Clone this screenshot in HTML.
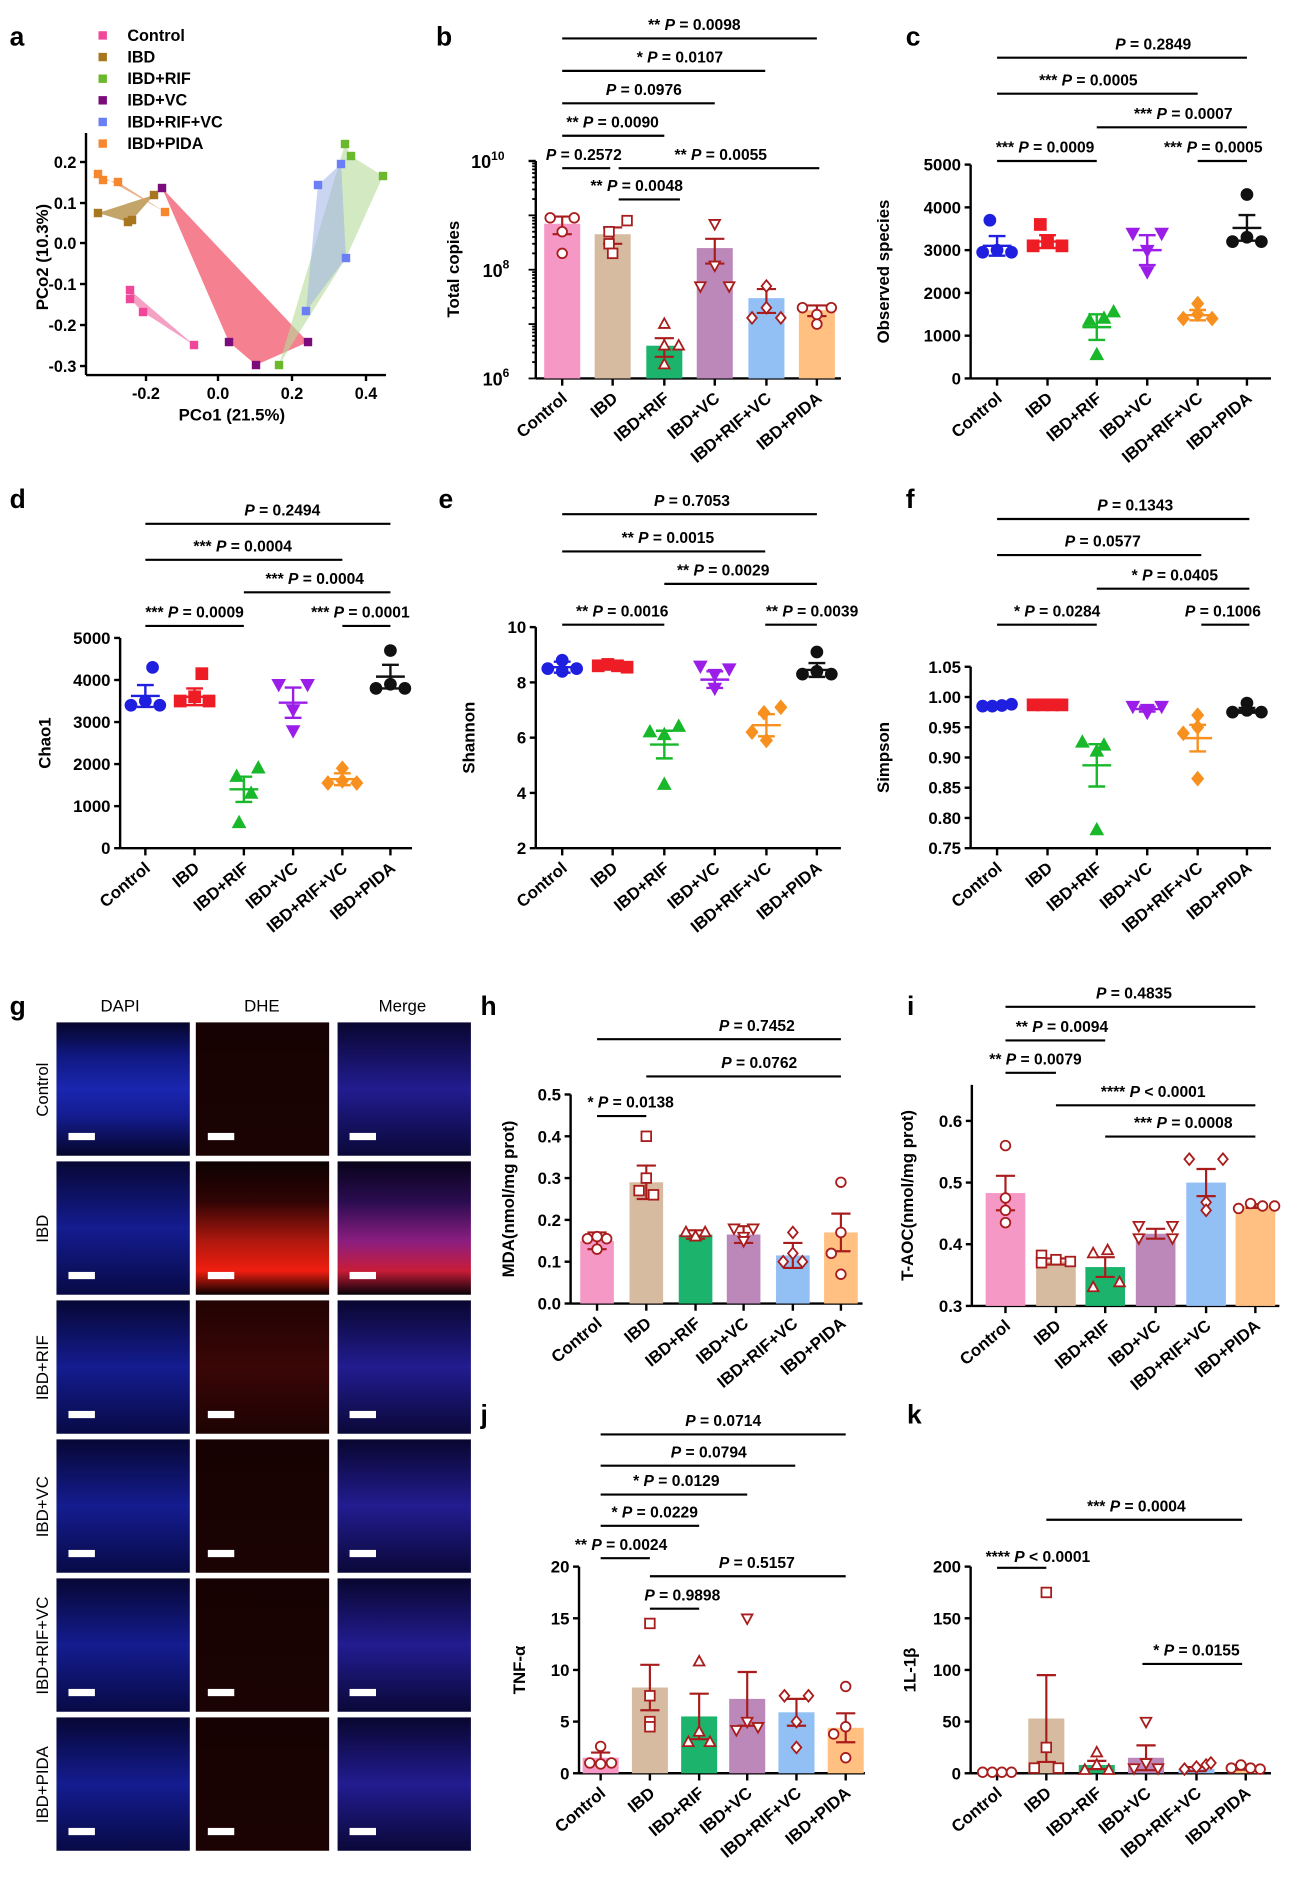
<!DOCTYPE html>
<html><head><meta charset="utf-8"><style>
html,body{margin:0;padding:0;background:#fff;}
svg{display:block;}
text{font-family:"Liberation Sans",Arial,sans-serif;font-weight:bold;fill:#000;}
text.n{font-weight:normal;}
</style></head><body>
<svg id="s" xmlns="http://www.w3.org/2000/svg" width="1301" height="1891" viewBox="0 0 1083 1574" preserveAspectRatio="none">
<defs>
<linearGradient id="gblue" x1="0" y1="0" x2="0" y2="1"><stop offset="0" stop-color="#05052a"/><stop offset="0.25" stop-color="#101880"/><stop offset="0.5" stop-color="#1a26b0"/><stop offset="0.7" stop-color="#141c90"/><stop offset="1" stop-color="#05052a"/></linearGradient>
<linearGradient id="gblue2" x1="0" y1="0" x2="0" y2="1"><stop offset="0" stop-color="#070735"/><stop offset="0.5" stop-color="#141c90"/><stop offset="1" stop-color="#080a45"/></linearGradient>
<linearGradient id="gred0" x1="0" y1="0" x2="0" y2="1"><stop offset="0" stop-color="#160202"/><stop offset="1" stop-color="#1c0303"/></linearGradient>
<linearGradient id="gred1" x1="0" y1="0" x2="0" y2="1"><stop offset="0" stop-color="#0c0101"/><stop offset="0.3" stop-color="#300404"/><stop offset="0.6" stop-color="#b0180e"/><stop offset="0.82" stop-color="#f01e10"/><stop offset="1" stop-color="#080000"/></linearGradient>
<linearGradient id="gred2" x1="0" y1="0" x2="0" y2="1"><stop offset="0" stop-color="#220303"/><stop offset="0.5" stop-color="#3a0606"/><stop offset="1" stop-color="#1e0303"/></linearGradient>
<linearGradient id="gmer1" x1="0" y1="0" x2="0" y2="1"><stop offset="0" stop-color="#08031a"/><stop offset="0.3" stop-color="#2a0c50"/><stop offset="0.6" stop-color="#8c1e80"/><stop offset="0.82" stop-color="#c81c38"/><stop offset="1" stop-color="#060108"/></linearGradient>
<linearGradient id="gmer" x1="0" y1="0" x2="0" y2="1"><stop offset="0" stop-color="#090630"/><stop offset="0.5" stop-color="#221c90"/><stop offset="1" stop-color="#0a0838"/></linearGradient>
</defs>
<g id="root"></g>
</svg>
<script>
var R=document.getElementById('root');var NS='http://www.w3.org/2000/svg';
function el(t,a,txt){var e=document.createElementNS(NS,t);for(var k in a)e.setAttribute(k,a[k]);if(txt!==undefined)e.textContent=txt;R.appendChild(e);return e;}
function line(x1,y1,x2,y2,w,c){el('line',{x1:x1,y1:y1,x2:x2,y2:y2,stroke:c||'#000','stroke-width':w||1.6});}
function txt(x,y,s,o){o=o||{};var a={x:x,y:y,'font-size':o.fs||13.5};if(o.anchor)a['text-anchor']=o.anchor;if(o.tr)a.transform=o.tr;if(o.fill)a.fill=o.fill;if(o.cls)a['class']=o.cls;return el('text',a,s);}
function ptxt(x,y,stars,val,anchor){var t=txt(x,y,'',{anchor:anchor||'middle',fs:13});
 var p=document.createElementNS(NS,'tspan');if(stars){p.textContent=stars+' ';t.appendChild(p);}
 var q=document.createElementNS(NS,'tspan');q.setAttribute('font-style','italic');q.textContent='P';t.appendChild(q);
 var r=document.createElementNS(NS,'tspan');r.textContent=' '+val;t.appendChild(r);}
function sig(x1,x2,y,stars,val,tx){line(x1,y,x2,y,1.8);ptxt(tx!==undefined?tx:(x1+x2)/2,y-7,stars,val);}
function marker(shape,x,y,col,fill,sz){sz=sz||4.5;var f=fill?col:'#fff',sw=fill?1:1.5;
 if(shape=='o')el('circle',{cx:x,cy:y,r:sz,fill:f,stroke:col,'stroke-width':sw});
 else if(shape=='s')el('rect',{x:x-sz,y:y-sz,width:2*sz,height:2*sz,fill:f,stroke:col,'stroke-width':sw});
 else if(shape=='t')el('polygon',{points:[x,y-sz*1.2,x-sz*1.1,y+sz*0.8,x+sz*1.1,y+sz*0.8].join(','),fill:f,stroke:col,'stroke-width':sw});
 else if(shape=='v')el('polygon',{points:[x,y+sz*1.2,x-sz*1.1,y-sz*0.8,x+sz*1.1,y-sz*0.8].join(','),fill:f,stroke:col,'stroke-width':sw});
 else if(shape=='d')el('polygon',{points:[x,y-sz*1.2,x+sz,y,x,y+sz*1.2,x-sz,y].join(','),fill:f,stroke:col,'stroke-width':sw});}
var G=['Control','IBD','IBD+RIF','IBD+VC','IBD+RIF+VC','IBD+PIDA'];
var SH=['o','s','t','v','d','o'];
var BC=['#f598c6','#d7bba1','#1cb46c','#bc87b9','#92bff4','#ffc082'];
var PC=['#1f1fe0','#ee1c24','#18b82a','#9b1ee8','#f7901e','#111'];
function axes(ax,top,bot,x0,cx,ticks,fmt,ylabel,labx){
 line(ax,top,ax,bot,2);line(ax,bot,x0,bot,2);
 ticks.forEach(function(t){line(ax-5,t[1],ax,t[1],2);txt(ax-8,t[1]+5,t[0],{anchor:'end',fs:14});});
 cx.forEach(function(c,i){line(c,bot,c,bot+6,2);txt(c+5,bot+18,G[i],{anchor:'end',tr:'rotate(-40 '+(c+5)+' '+(bot+18)+')',fs:14});});
 txt(labx,(top+bot)/2,ylabel,{anchor:'middle',tr:'rotate(-90 '+labx+' '+(top+bot)/2+')',fs:14});}
function scatter(cx,vals,ymap,means,sems){
 cx.forEach(function(c,i){var m=ymap(means[i]);line(c-12,m,c+12,m,2,PC[i]);line(c,ymap(means[i]+sems[i]),c,ymap(means[i]-sems[i]),2,PC[i]);
  line(c-7,ymap(means[i]+sems[i]),c+7,ymap(means[i]+sems[i]),2,PC[i]);line(c-7,ymap(means[i]-sems[i]),c+7,ymap(means[i]-sems[i]),2,PC[i]);
  vals[i].forEach(function(p){marker(SH[i],c+p[0],ymap(p[1]),PC[i],true,4.8);});});}
function bars(cx,bw,bot,ymap,means,sems,vals){
 cx.forEach(function(c,i){var t=ymap(means[i]);el('rect',{x:c-bw/2,y:t,width:bw,height:bot-t,fill:BC[i]});});
 cx.forEach(function(c,i){var col='#a81c1c';var a=ymap(means[i]+sems[i]),b=ymap(Math.max(means[i]-sems[i],0));
  line(c,a,c,b,1.8,col);line(c-8,a,c+8,a,1.8,col);line(c-8,b,c+8,b,1.8,col);
  vals[i].forEach(function(p){marker(SH[i],c+p[0],ymap(p[1]),col,false,4);});});}
function lbl(x,y,s){txt(x,y,s,{fs:22});}

// ===== a =====
lbl(8,38,'a');
var LG=[['Control','#f0479a'],['IBD','#a8761e'],['IBD+RIF','#6cb82c'],['IBD+VC','#7c0b7c'],['IBD+RIF+VC','#6a7ff5'],['IBD+PIDA','#f7872e']];
LG.forEach(function(l,i){var y=31+i*18;el('rect',{x:82,y:y-5,width:7,height:7,fill:l[1]});txt(106,y+3,l[0],{fs:13.5});});
var sa=1/1.2013;function P(x,y){return (x*sa).toFixed(1)+','+(y*sa).toFixed(1);}
function poly(pts,fill,op){el('polygon',{points:pts.map(function(p){return P(p[0],p[1]);}).join(' '),fill:fill,'fill-opacity':op});}
poly([[162,188],[308,342],[256,365],[229,342]],'#f36a7c',0.85);
poly([[279,365],[345,144],[351,156],[383,176],[346,258]],'#b5da9a',0.6);
poly([[318,185],[341,164],[346,258],[306,311]],'#9fb2e8',0.55);
poly([[130,290],[130,299],[143,312],[194,345]],'#f18ab5',0.8);
poly([[98,213],[128,222],[132,220],[154,195]],'#b89550',0.85);
poly([[98,174],[103,180],[118,182],[165,212]],'#e79a6a',0.8);
var ptsA=[['#f0479a',[[130,290],[130,299],[143,312],[194,345]]],['#a8761e',[[98,213],[128,222],[132,220],[154,195]]],['#f7872e',[[98,174],[103,180],[118,182],[165,212]]],['#7c0b7c',[[162,188],[229,342],[256,365],[308,342]]],['#6cb82c',[[279,365],[345,144],[351,156],[383,176]]],['#6a7ff5',[[318,185],[341,164],[346,258],[306,311]]]];
ptsA.forEach(function(g){g[1].forEach(function(p){el('rect',{x:p[0]*sa-3.5,y:p[1]*sa-3.5,width:7,height:7,fill:g[0]});});});
line(86*sa,133*sa,86*sa,375*sa,2);line(86*sa,375*sa,386*sa,375*sa,2);
[['0.2',162],['0.1',203],['0.0',243],['-0.1',284],['-0.2',325],['-0.3',366]].forEach(function(t){line(86*sa-5,t[1]*sa,86*sa,t[1]*sa,2);txt(86*sa-8,t[1]*sa+5,t[0],{anchor:'end',fs:13.5});});
[['-0.2',146],['0.0',218],['0.2',292],['0.4',366]].forEach(function(t){line(t[1]*sa,375*sa,t[1]*sa,375*sa+5,2);txt(t[1]*sa,375*sa+20,t[0],{anchor:'middle',fs:13.5});});
txt(193,350,'PCo1 (21.5%)',{anchor:'middle',fs:14});
txt(40,214,'PCo2 (10.3%)',{anchor:'middle',fs:14,tr:'rotate(-90 40 214)'});

// ===== b =====
lbl(363,38,'b');
var cb=[468,510,553,595,638,680];
(function(){var top=134,bot=315;var ym=function(v){return bot-(Math.log10(v)-6)*(bot-top)/4;};
 line(446,top,446,bot,2);line(446,bot,700,bot,2);
 for(var d=6;d<10;d++)for(var k=1;k<10;k++){var y=ym(k*Math.pow(10,d));line(k==1?440:443,y,446,y,1.5);}
 line(440,top,446,top,2);
 [[6,bot],[8,ym(1e8)],[10,top]].forEach(function(t){var e=txt(t[0]==10?420:424,t[1]+6,'10',{anchor:'end',fs:15});var s=document.createElementNS(NS,'tspan');s.setAttribute('dy','-7');s.setAttribute('font-size','10');s.textContent=t[0];e.appendChild(s);});
 cb.forEach(function(c,i){line(c,bot,c,bot+6,2);txt(c+5,bot+18,G[i],{anchor:'end',tr:'rotate(-40 '+(c+5)+' '+(bot+18)+')',fs:14});});
 txt(382,224,'Total copies',{anchor:'middle',fs:14,tr:'rotate(-90 382 224)'});
 var m=[7e8,4.5e8,4e6,2.5e8,3e7,1.8e7],s=[2.5e8,1.5e8,1.5e6,1.2e8,1.4e7,4e6];
 var v=[[[-10,9e8],[0,5e8],[10,9e8],[0,2e8]],[[-3,5e8],[-3,3e8],[12,8e8],[0,2e8]],[[0,1e7],[0,4e6],[12,4e6],[0,1.8e6]],[[0,7e8],[0,1.2e8],[-12,5e7],[12,5e7]],[[0,5e7],[0,2e7],[-12,1.3e7],[12,1.3e7]],[[-12,2e7],[12,2e7],[0,1.5e7],[0,1e7]]];
 bars(cb,30,bot,ym,m,s,v);
 sig(468,680,32,'**','= 0.0098',578);sig(468,637,59,'*','= 0.0107',566);sig(468,595,86,'','= 0.0976',536);
 sig(468,553,113,'**','= 0.0090',510);line(468,140,508,140,1.8);ptxt(486,133,'','= 0.2572');
 line(515,140,682,140,1.8);ptxt(600,133,'**','= 0.0055');sig(515,566,166,'**','= 0.0048',530);})();

// ===== c =====
lbl(754,38,'c');
var cr=[830,872,913,955,997,1038];
(function(){var top=137,bot=315;var ym=function(v){return bot-v*(bot-top)/5000;};
 axes(808,top,bot,1058,cr,[['0',bot],['1000',ym(1000)],['2000',ym(2000)],['3000',ym(3000)],['4000',ym(4000)],['5000',top]],null,'Observed species',740);
 scatter(cr,[[[-6,3700],[-12,2950],[12,2950],[0,3000]],[[-6,3600],[-12,3100],[12,3100],[0,3200]],[[14,1550],[-6,1350],[6,1400],[0,550]],[[-12,3400],[12,3400],[0,3000],[0,2500]],[[0,1750],[-12,1400],[12,1400],[0,1500]],[[0,4300],[-12,3200],[12,3200],[0,3300]]],ym,[3100,3200,1200,3000,1480,3520],[230,150,300,350,120,300]);
 sig(830,1038,48,'','= 0.2849',960);sig(830,997,78,'***','= 0.0005',906);sig(913,1038,106,'***','= 0.0007',985);
 sig(830,913,134,'***','= 0.0009',870);sig(997,1038,134,'***','= 0.0005',1010);})();

// ===== d =====
lbl(8,423,'d');
var cd=[121,162,203,244,285,325];
(function(){var top=531,bot=706;var ym=function(v){return bot-v*(bot-top)/5000;};
 axes(100,top,bot,343,cd,[['0',bot],['1000',ym(1000)],['2000',ym(2000)],['3000',ym(3000)],['4000',ym(4000)],['5000',top]],null,'Chao1',42);
 scatter(cd,[[[6,4300],[-12,3400],[12,3400],[0,3500]],[[6,4150],[-12,3500],[12,3500],[0,3600]],[[12,1900],[-6,1700],[6,1300],[-4,600]],[[-12,3900],[12,3900],[0,3300],[0,2800]],[[0,1900],[-12,1550],[12,1550],[0,1600]],[[0,4700],[-12,3800],[12,3800],[0,3900]]],ym,[3620,3600,1400,3460,1640,4080],[260,200,300,360,140,280]);
 sig(121,325,436,'','= 0.2494',235);sig(121,285,466,'***','= 0.0004',202);sig(203,325,493,'***','= 0.0004',262);
 sig(121,203,521,'***','= 0.0009',162);sig(285,325,521,'***','= 0.0001',300);})();

// ===== e =====
lbl(365,423,'e');
(function(){var top=522,bot=706;var ym=function(v){return bot-(v-2)*(bot-top)/8;};
 axes(446,top,bot,700,cb,[['2',bot],['4',ym(4)],['6',ym(6)],['8',ym(8)],['10',top]],null,'Shannon',395);
 scatter(cb,[[[-12,8.5],[12,8.5],[0,8.8],[0,8.4]],[[-12,8.6],[-4,8.65],[4,8.6],[12,8.55]],[[12,6.4],[-12,6.2],[0,6.1],[0,4.3]],[[-12,8.6],[12,8.5],[0,8.3],[0,7.8]],[[12,7.1],[-2,6.9],[-12,6.2],[0,5.9]],[[0,9.1],[-12,8.3],[12,8.3],[0,8.4]]],ym,[8.55,8.6,5.75,8.1,6.45,8.45],[0.2,0.1,0.5,0.3,0.4,0.25]);
 sig(468,680,428,'','= 0.7053',576);sig(468,637,459,'**','= 0.0015',556);sig(553,680,486,'**','= 0.0029',602);
 sig(468,553,520,'**','= 0.0016',518);sig(637,680,520,'**','= 0.0039',676);})();

// ===== f =====
lbl(754,423,'f');
(function(){var top=555,bot=706;var ym=function(v){return bot-(v-0.75)*(bot-top)/0.3;};
 axes(808,top,bot,1058,cr,[['0.75',bot],['0.80',ym(.8)],['0.85',ym(.85)],['0.90',ym(.9)],['0.95',ym(.95)],['1.00',ym(1)],['1.05',top]],null,'Simpson',740);
 scatter(cr,[[[-12,0.985],[-4,0.985],[4,0.986],[12,0.988]],[[-12,0.987],[-4,0.987],[4,0.987],[12,0.987]],[[-12,0.925],[6,0.92],[0,0.91],[0,0.78]],[[-12,0.985],[12,0.985],[0,0.975],[0,0.98]],[[0,0.97],[0,0.95],[-12,0.94],[0,0.865]],[[0,0.99],[-12,0.975],[12,0.975],[0,0.978]]],ym,[0.986,0.987,0.887,0.98,0.932,0.978],[0.002,0.001,0.035,0.004,0.022,0.004]);
 sig(830,1040,432,'','= 0.1343',945);sig(830,1000,462,'','= 0.0577',918);sig(913,1040,490,'*','= 0.0405',978);
 sig(830,913,520,'*','= 0.0284',880);sig(1000,1040,520,'','= 0.1006',1018);})();

// ===== g =====
lbl(8,845,'g');
txt(100,842,'DAPI',{anchor:'middle',fs:14,cls:'n'});txt(218,842,'DHE',{anchor:'middle',fs:14,cls:'n'});txt(335,842,'Merge',{anchor:'middle',fs:14,cls:'n'});
var colx=[47,163,281];var rows=['Control','IBD','IBD+RIF','IBD+VC','IBD+RIF+VC','IBD+PIDA'];
rows.forEach(function(r,i){var y=851+i*115.7;
 var fills=[i==0?'url(#gblue)':'url(#gblue2)',i==0?'url(#gred0)':(i==1?'url(#gred1)':(i==2?'url(#gred2)':'url(#gred0)')),i==1?'url(#gmer1)':'url(#gmer)'];
 colx.forEach(function(x,j){el('rect',{x:x,y:y,width:111,height:111,fill:fills[j]});el('rect',{x:x+10,y:y+92,width:22,height:6,fill:'#fff'});});
 txt(40,y+56,r,{anchor:'middle',fs:14,cls:'n',tr:'rotate(-90 40 '+(y+56)+')'});});

// ===== h =====
lbl(400,845,'h');
var ch=[497,538,579,619,660,700];
(function(){var top=911,bot=1085;var ym=function(v){return bot-v*(bot-top)/0.5;};
 axes(475,top,bot,718,ch,[['0.0',bot],['0.1',ym(.1)],['0.2',ym(.2)],['0.3',ym(.3)],['0.4',ym(.4)],['0.5',top]],null,'MDA(nmol/mg prot)',428);
 bars(ch,28,bot,ym,[0.15,0.29,0.165,0.165,0.115,0.17],[0.02,0.04,0.01,0.02,0.03,0.045],[[[-8,0.155],[8,0.155],[0,0.13],[0,0.16]],[[0,0.4],[0,0.3],[-6,0.27],[6,0.26]],[[-8,0.17],[8,0.17],[0,0.16],[0,0.16]],[[-8,0.18],[8,0.18],[0,0.16],[0,0.15]],[[0,0.17],[0,0.12],[-8,0.1],[8,0.1]],[[0,0.29],[0,0.17],[-8,0.12],[0,0.07]]]);
 sig(497,700,865,'','= 0.7452',630);sig(538,700,896,'','= 0.0762',632);sig(497,538,929,'*','= 0.0138',525);})();

// ===== i =====
lbl(755,845,'i');
var ci=[837,879,920,962,1004,1045];
(function(){var top=903,bot=1087;var ym=function(v){return bot-(v-0.3)*(1087-933)/0.3;};
 axes(809,top,bot,1065,ci,[['0.3',bot],['0.4',ym(.4)],['0.5',ym(.5)],['0.6',ym(.6)]],null,'T-AOC(nmol/mg prot)',760);
 bars(ci,33,bot,ym,[0.483,0.372,0.363,0.417,0.5,0.462],[0.028,0.005,0.016,0.008,0.022,0.003],[[[0,0.56],[0,0.475],[0,0.455],[0,0.435]],[[-12,0.382],[-12,0.37],[0,0.375],[12,0.372]],[[-10,0.385],[2,0.39],[-10,0.33],[12,0.338]],[[-14,0.43],[14,0.43],[-14,0.41],[14,0.41]],[[-14,0.538],[14,0.538],[0,0.468],[0,0.455]],[[-14,0.458],[-4,0.466],[6,0.462],[16,0.462]]]);
 sig(837,1045,838,'','= 0.4835',944);sig(837,920,866,'**','= 0.0094',884);sig(837,879,893,'**','= 0.0079',862);
 sig(879,1045,920,'****','< 0.0001',960);sig(920,1045,946,'***','= 0.0008',985);})();

// ===== j =====
lbl(400,1185,'j');
var cj=[500,541,582,622,663,704];
(function(){var top=1304,bot=1476;var ym=function(v){return bot-v*(bot-top)/20;};
 axes(482,top,bot,720,cj,[['0',bot],['5',ym(5)],['10',ym(10)],['15',ym(15)],['20',top]],null,'TNF-α',437);
 bars(cj,30,bot,ym,[1.5,8.3,5.5,7.2,5.9,4.4],[0.5,2.2,2.2,2.6,1.3,1.4],[[[0,2.6],[-9,1],[0,0.9],[9,1]],[[0,14.5],[0,7.5],[0,5],[0,4.5]],[[0,10.8],[0,4],[-9,3],[9,3]],[[0,15],[0,5],[-9,4.2],[9,4.5]],[[-10,7.5],[10,7.5],[0,5],[0,2.5]],[[0,8.4],[0,4.5],[-10,3.8],[0,1.5]]]);
 sig(500,704,1194,'','= 0.0714',602);sig(500,662,1220,'','= 0.0794',590);sig(500,622,1244,'*','= 0.0129',563);
 sig(500,582,1270,'*','= 0.0229',545);sig(500,541,1297,'**','= 0.0024',517);line(541,1312,704,1312,1.8);ptxt(630,1305,'','= 0.5157');
 sig(541,582,1339,'','= 0.9898',568);})();

// ===== k =====
lbl(755,1185,'k');
var ck=[830,871,913,954,996,1037];
(function(){var top=1304,bot=1476;var ym=function(v){return bot-v*(bot-top)/200;};
 axes(808,top,bot,1058,ck,[['0',bot],['50',ym(50)],['100',ym(100)],['150',ym(150)],['200',top]],null,'1L-1β',762);
 bars(ck,30,bot,ym,[1,53,8,15,4,5],[0.3,42,4,12,2,1.5],[[[-12,1],[-4,1],[4,1],[12,1]],[[0,175],[0,25],[-10,5],[10,5]],[[0,20],[0,8],[-10,3],[10,3]],[[0,50],[0,10],[-10,5],[10,5]],[[-10,4],[0,6],[8,8],[12,10]],[[-12,5],[-4,8],[4,5],[12,4]]]);
 sig(871,1034,1265,'***','= 0.0004',946);line(830,1305,871,1305,1.8);ptxt(864,1300,'****','< 0.0001');
 sig(951,1034,1385,'*','= 0.0155',996);})();
</script>
</body></html>
